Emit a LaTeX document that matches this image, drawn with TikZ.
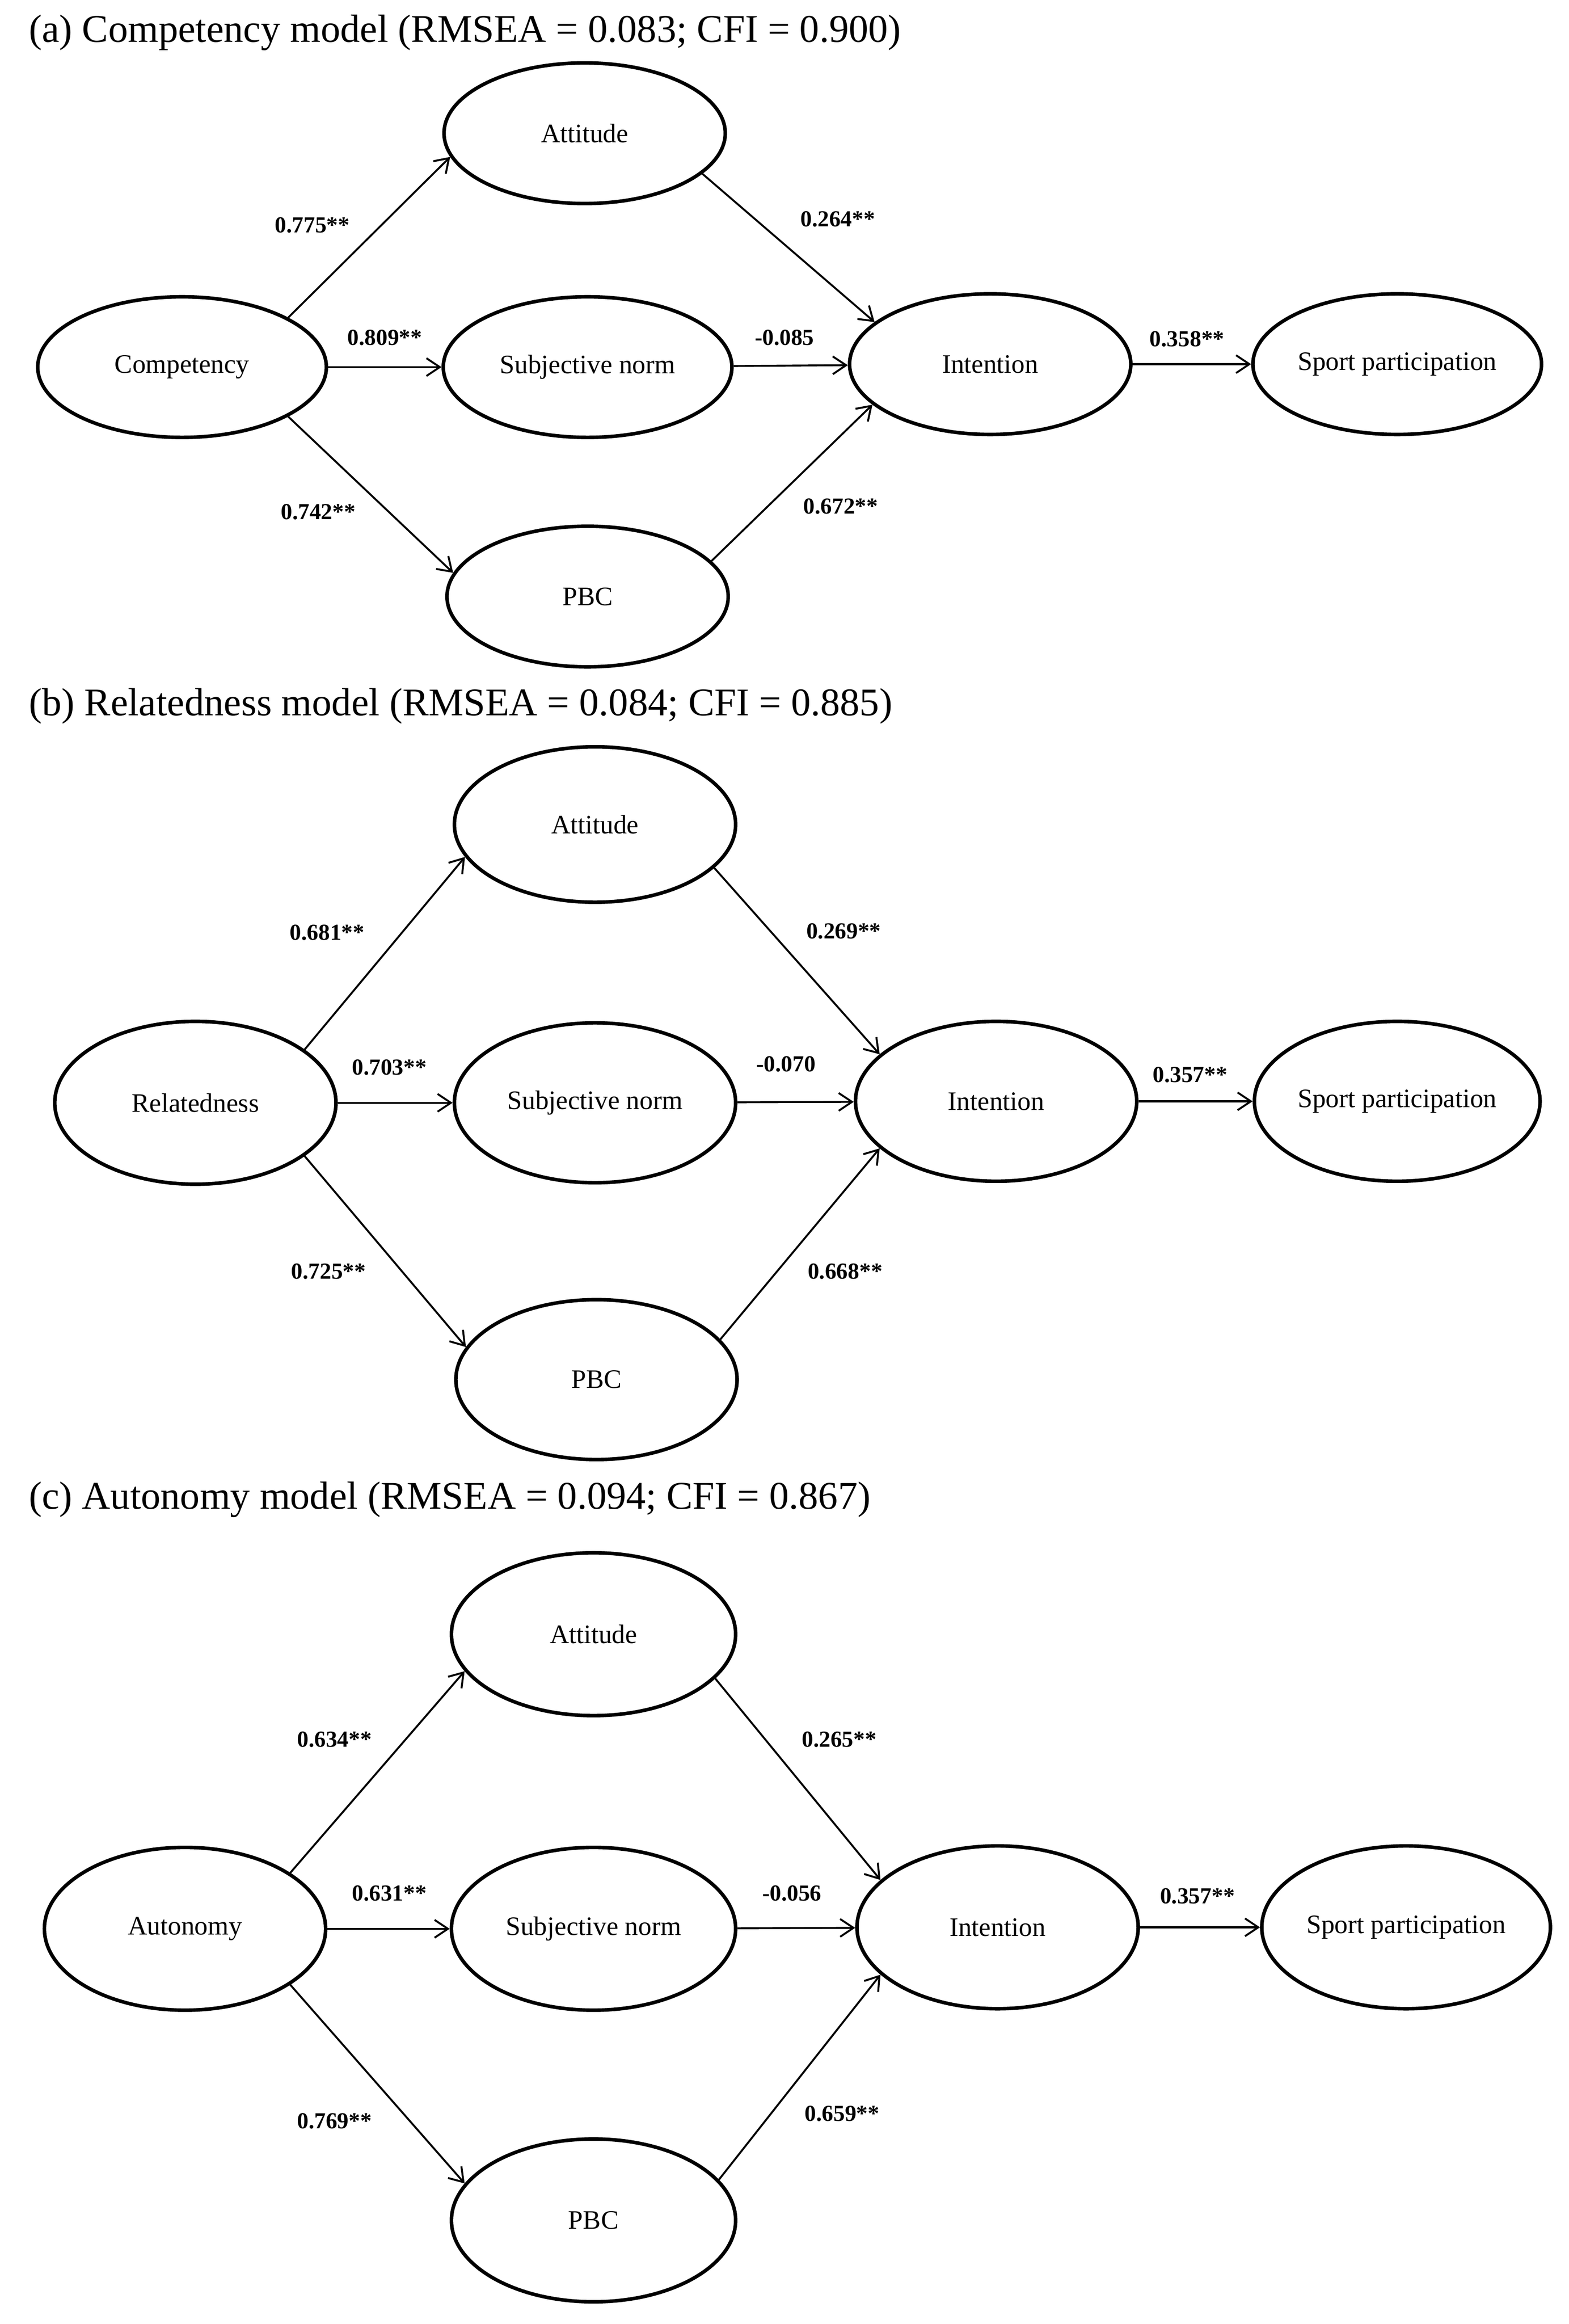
\documentclass[tikz,border=0pt]{standalone}
\usepackage{fontspec}
\setmainfont{Liberation Serif}
\usetikzlibrary{shapes.geometric,arrows.meta}
\begin{document}
\begin{tikzpicture}[x=1pt,y=-1pt,
  el/.style={draw,line width=2.4pt,ellipse,inner sep=0pt,font=\fontsize{18}{21}\selectfont},
  ar/.style={-{Straight Barb[length=9pt,width=12pt]},line width=1.3pt},
  lb/.style={font=\bfseries\fontsize{15.5}{18}\selectfont},
  tt/.style={anchor=west,font=\fontsize{26.5}{30}\selectfont}]
\useasboundingbox (0,0) rectangle (1060,1570);
% panel a
\node[tt] (ta) at (16,22) {(a) Competency model (RMSEA = 0.083; CFI = 0.900)};
\node[el,minimum width=190,minimum height=95] (a1) at (395,90) {Attitude};
\node[el,minimum width=195,minimum height=95] (a0) at (123,248) {Competency};
\node[el,minimum width=195,minimum height=95] (a2) at (397,248) {Subjective norm};
\node[el,minimum width=190,minimum height=95] (a3) at (397,403) {PBC};
\node[el,minimum width=190,minimum height=95] (a4) at (669,246) {Intention};
\node[el,minimum width=195,minimum height=95] (a5) at (944,246) {Sport participation};
\draw[ar] (a0.25) -- (a1.190); \draw[ar] (a0) -- (a2); \draw[ar] (a0.-25) -- (a3.170);
\draw[ar] (a1.-19) -- (a4.160); \draw[ar] (a2) -- (a4); \draw[ar] (a3.16) -- (a4.199); \draw[ar] (a4) -- (a5);
\node[lb] (la1) at (211,152) {0.775**}; \node[lb] (la2) at (260,228) {0.809**};
\node[lb] (la3) at (215,346) {0.742**}; \node[lb] (la4) at (566,148) {0.264**};
\node[lb] (la5) at (530,228) {-0.085}; \node[lb] (la6) at (568,342) {0.672**};
\node[lb] (la7) at (802,229) {0.358**};
% panel b
\node[tt] (tb) at (16,477) {(b) Relatedness model (RMSEA = 0.084; CFI = 0.885)};
\node[el,minimum width=190,minimum height=105] (b1) at (402,557) {Attitude};
\node[el,minimum width=190,minimum height=110] (b0) at (132,745) {Relatedness};
\node[el,minimum width=190,minimum height=108] (b2) at (402,745) {Subjective norm};
\node[el,minimum width=190,minimum height=108] (b3) at (403,932) {PBC};
\node[el,minimum width=190,minimum height=108] (b4) at (673,744) {Intention};
\node[el,minimum width=193,minimum height=108] (b5) at (944,744) {Sport participation};
\draw[ar] (b0.26) -- (b1.194); \draw[ar] (b0) -- (b2); \draw[ar] (b0.-26) -- (b3.166);
\draw[ar] (b1.-20) -- (b4.158); \draw[ar] (b2) -- (b4); \draw[ar] (b3.18) -- (b4.202); \draw[ar] (b4) -- (b5);
\node[lb] (lb1) at (221,630) {0.681**}; \node[lb] (lb2) at (263,721) {0.703**};
\node[lb] (lb3) at (222,859) {0.725**}; \node[lb] (lb4) at (570,629) {0.269**};
\node[lb] (lb5) at (531,719) {-0.070}; \node[lb] (lb6) at (571,859) {0.668**};
\node[lb] (lb7) at (804,726) {0.357**};
% panel c
\node[tt] (tc) at (16,1013) {(c) Autonomy model (RMSEA = 0.094; CFI = 0.867)};
\node[el,minimum width=192,minimum height=110] (c1) at (401,1104) {Attitude};
\node[el,minimum width=190,minimum height=110] (c0) at (125,1303) {Autonomy};
\node[el,minimum width=192,minimum height=110] (c2) at (401,1303) {Subjective norm};
\node[el,minimum width=192,minimum height=110] (c3) at (401,1500) {PBC};
\node[el,minimum width=190,minimum height=110] (c4) at (674,1302) {Intention};
\node[el,minimum width=195,minimum height=110] (c5) at (950,1302) {Sport participation};
\draw[ar] (c0.28) -- (c1.196); \draw[ar] (c0) -- (c2); \draw[ar] (c0.-28) -- (c3.164);
\draw[ar] (c1.-20) -- (c4.158); \draw[ar] (c2) -- (c4); \draw[ar] (c3.18) -- (c4.202); \draw[ar] (c4) -- (c5);
\node[lb] (lc1) at (226,1175) {0.634**}; \node[lb] (lc2) at (263,1279) {0.631**};
\node[lb] (lc3) at (226,1433) {0.769**}; \node[lb] (lc4) at (567,1175) {0.265**};
\node[lb] (lc5) at (535,1279) {-0.056}; \node[lb] (lc6) at (569,1428) {0.659**};
\node[lb] (lc7) at (809,1281) {0.357**};
\end{tikzpicture}
\end{document}
